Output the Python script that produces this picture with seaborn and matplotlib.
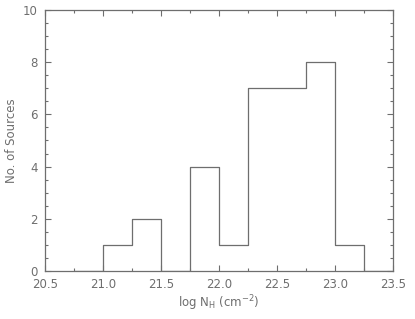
import numpy as np
import matplotlib
matplotlib.use("Agg")
import matplotlib.pyplot as plt
from matplotlib.ticker import MultipleLocator
import seaborn as sns

# histogram bins (log NH), zero bins at both ends close the outline
bin_edges = [20.75, 21.0, 21.25, 21.5, 21.75, 22.0, 22.25, 22.5, 22.75, 23.0, 23.25, 23.5]
counts = [0, 1, 2, 0, 4, 1, 7, 7, 8, 1, 0]

xticks = [20.5, 21.0, 21.5, 22.0, 22.5, 23.0, 23.5]
yticks = [0, 2, 4, 6, 8, 10]

gray = "#6e6e6e"
centers = [(a + b) / 2 for a, b in zip(bin_edges[:-1], bin_edges[1:])]

sns.set_style("ticks")
plt.rcParams["font.family"] = ["DejaVu Sans"]

fig = plt.figure(figsize=(4.15, 3.19), dpi=100)
ax = fig.add_axes([0.1084, 0.1505, 0.8386, 0.8182])

sns.histplot(x=centers, weights=counts, bins=bin_edges, element="step",
             fill=False, color=gray, linewidth=0.9, ax=ax)

ax.set_xlim(20.5, 23.5)
ax.set_ylim(0, 10)
ax.set_xticks(xticks)
ax.set_xticklabels([f"{t:.1f}" for t in xticks])
ax.set_yticks(yticks)
ax.xaxis.set_minor_locator(MultipleLocator(0.25))
ax.yaxis.set_minor_locator(MultipleLocator(0.5))
ax.tick_params(which="both", direction="in", top=True, right=True,
               colors=gray, labelsize=8.5, width=0.8)
ax.tick_params(which="major", length=4, pad=5)
ax.tick_params(which="minor", length=2)
for s in ax.spines.values():
    s.set_color(gray)
    s.set_linewidth(0.9)

ax.set_xlabel("log N$_{\\mathregular{H}}$ (cm$^{\\mathregular{-2}}$)", color=gray, fontsize=8.5, labelpad=2)
ax.set_ylabel("No. of Sources", color=gray, fontsize=8.5, labelpad=4)

fig.savefig("out.png", dpi=100)
